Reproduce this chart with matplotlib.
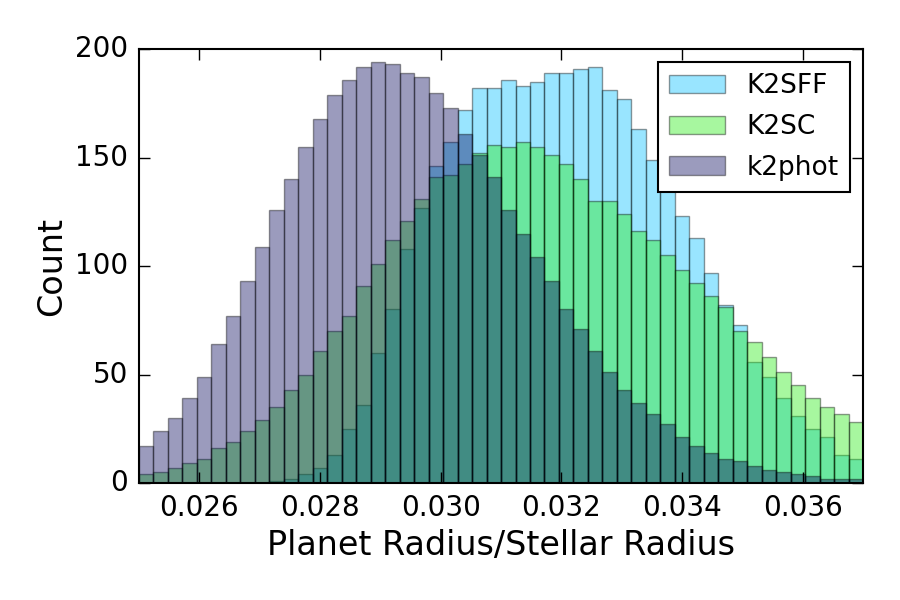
import numpy as np
import matplotlib
matplotlib.use("Agg")
import matplotlib.pyplot as plt

# histogram counts, 50 bins from 0.025 to 0.037
k2sff = [0, 0, 0, 0, 0, 0, 0, 0, 0, 1,
         2, 4, 7, 13, 25, 36, 60, 80, 108, 127,
         146, 157, 172, 182, 182, 186, 183, 185, 189, 189,
         191, 192, 181, 177, 163, 149, 140, 123, 113, 97,
         82, 73, 56, 49, 39, 31, 25, 21, 13, 11]
k2sc = [4, 5, 7, 9, 11, 16, 19, 24, 29, 35,
        43, 50, 61, 70, 77, 91, 101, 112, 121, 131,
        141, 142, 147, 152, 156, 155, 157, 155, 151, 147,
        140, 130, 130, 124, 116, 112, 105, 98, 92, 86,
        81, 70, 65, 58, 51, 45, 39, 35, 32, 28]
k2phot = [17, 24, 30, 39, 49, 64, 77, 93, 109, 126,
          140, 155, 168, 179, 186, 192, 194, 193, 189, 187,
          180, 173, 161, 151, 141, 126, 115, 104, 93, 80,
          71, 61, 51, 43, 37, 32, 27, 21, 17, 14,
          11, 10, 8, 6, 5, 4, 3, 2, 2, 2]
labels = ["K2SFF", "K2SC", "k2phot"]
colors = ["#00bfff", "#25eb11", "#05055a"]

plt.style.use("classic")
plt.rcParams["figure.facecolor"] = "white"
plt.rcParams["savefig.facecolor"] = "white"

edges = np.linspace(0.025, 0.037, 51)

fig = plt.figure(figsize=(9, 6), dpi=100)
ax = fig.add_axes([0.1544, 0.195, 0.8046, 0.723])

for counts, lab, col in zip([k2sff, k2sc, k2phot], labels, colors):
    ax.hist(edges[:-1], bins=edges, weights=counts, color=col, alpha=0.4,
            edgecolor="k", linewidth=1.0, label=lab)

ax.set_xlim(0.025, 0.037)
ax.set_ylim(0, 200)
ax.set_xticks([0.026, 0.028, 0.030, 0.032, 0.034, 0.036])
ax.set_yticks([0, 50, 100, 150, 200])
ax.xaxis.set_major_formatter(matplotlib.ticker.FormatStrFormatter("%.3f"))
ax.tick_params(direction="in", length=8, width=1, labelsize=20, pad=8,
               top=True, right=True)
for sp in ax.spines.values():
    sp.set_linewidth(1.5)

ax.set_xlabel("Planet Radius/Stellar Radius", fontsize=24)
ax.set_ylabel("Count", fontsize=24)

leg = ax.legend(loc="upper right", fontsize=19, fancybox=False,
                borderpad=0.42, handlelength=2.1, handletextpad=0.83,
                labelspacing=0.55, borderaxespad=0.5)
leg.get_frame().set_linewidth(1.5)
leg.get_frame().set_edgecolor("k")

fig.savefig("out.png", dpi=100)
